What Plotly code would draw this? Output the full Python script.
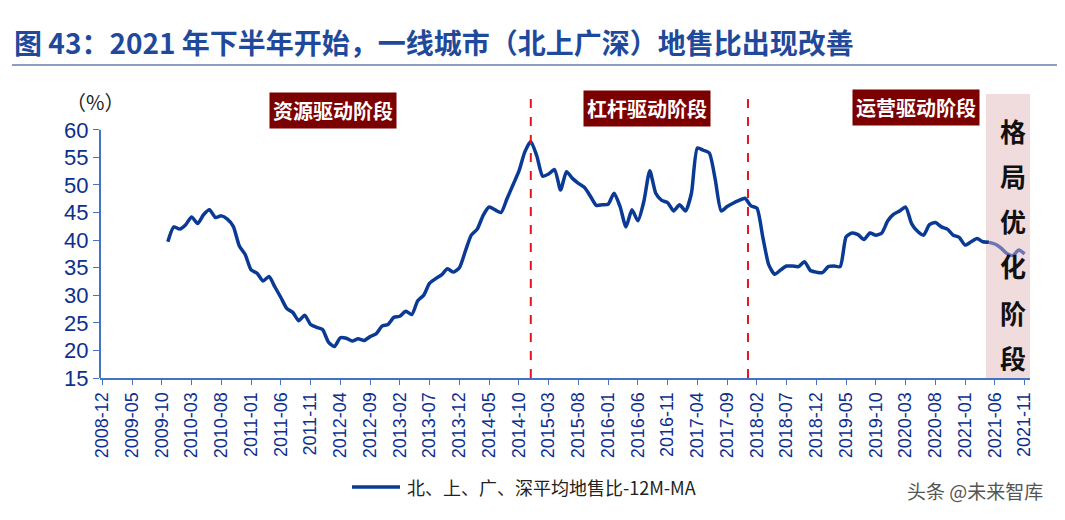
import plotly.graph_objects as go

# monthly categories 2008-12 .. 2021-11
months = []
y, m = 2008, 12
while (y, m) <= (2021, 11):
    months.append(f"{y}-{m:02d}")
    m += 1
    if m > 12:
        y, m = y + 1, 1

# 12M moving average land-sale ratio, starts 2009-11
ratio = [
    39.7, 42.4, 42.0, 42.8, 44.2, 43.0, 44.6, 45.5, 44.1, 44.4,
    43.8, 42.5, 39.0, 37.4, 34.6, 34.0, 32.6, 33.4, 31.5, 29.6,
    27.6, 26.9, 25.4, 26.4, 24.7, 24.2, 23.8, 21.5, 20.7, 22.3,
    22.2, 21.7, 22.1, 21.8, 22.5, 23.0, 24.4, 24.7, 26.0, 26.2,
    27.1, 26.5, 29.0, 30.0, 32.2, 33.0, 33.7, 34.8, 34.2, 35.0,
    38.0, 40.9, 42.0, 44.5, 46.0, 45.5, 45.0, 47.5, 50.0, 52.5,
    56.0, 57.9, 55.3, 51.6, 52.0, 52.8, 49.1, 52.4, 51.2, 50.3,
    49.6, 48.0, 46.3, 46.4, 46.5, 48.5, 46.1, 42.4, 45.5, 43.5,
    47.0, 52.6, 48.5, 47.2, 46.8, 45.3, 46.4, 45.3, 48.5, 56.7,
    56.3, 55.8, 51.0, 45.3, 46.1, 46.7, 47.2, 47.6, 46.2, 45.8,
    40.5, 35.5, 33.8, 34.6, 35.3, 35.3, 35.2, 36.1, 34.5, 34.2,
    34.1, 35.2, 35.3, 35.2, 40.6, 41.3, 41.0, 40.1, 41.3, 40.9,
    41.3, 43.5, 44.7, 45.3, 46.0, 43.0, 41.6, 40.9, 42.8, 43.2,
    42.4, 42.0, 40.9, 40.5, 39.1, 39.7, 40.3, 39.7, 39.6, 39.3,
    38.6, 37.6, 37.2, 38.2, 37.5,
]
start = months.index("2009-11")
split = months.index("2021-05")
stage_lines = ["2014-12", "2017-12"]
stages = ["资源驱动阶段", "杠杆驱动阶段", "运营驱动阶段"]
final_stage = "格局优化阶段"
title = "图 43：2021 年下半年开始，一线城市（北上广深）地售比出现改善"
legend_name = "北、上、广、深平均地售比-12M-MA"

full = [None] * start + ratio
dark = full[: split + 1] + [None] * (len(months) - split - 1)
light = [None] * split + full[split:]

W, H = 1065, 520
OFF = 8  # page offset seen in the screenshot
L, R, T, B = 100 - OFF, 1030 - OFF, 94 - OFF, 378 - OFF
def px(x): return (x - OFF - L) / (R - L)
def py(y): return (B - (y - OFF)) / (B - T)

BLUE = "#0a3a94"
TICK = "#0d2f8f"
CJK = "Noto Sans CJK SC"

fig = go.Figure()
fig.add_trace(go.Scatter(x=months, y=dark, mode="lines",
                         line=dict(color=BLUE, width=3.5, shape="spline", smoothing=0.6),
                         showlegend=False))
fig.add_trace(go.Scatter(x=months, y=light, mode="lines",
                         line=dict(color="#6d75b5", width=3.5, shape="spline", smoothing=0.6),
                         showlegend=False))

shapes = []
# pink shaded final stage
shapes.append(dict(type="rect", xref="x", yref="paper", x0=148.5, x1=155.9, y0=0, y1=1,
                   fillcolor="#f0dcdc", line_width=0, layer="below"))
for s in stage_lines:
    i = months.index(s) + (0.5 if s == "2017-12" else 0)
    shapes.append(dict(type="line", xref="x", yref="paper", x0=i, x1=i, y0=0, y1=1,
                       line=dict(color="#e8141b", width=2, dash="dash")))
# y axis line 15..60
shapes.append(dict(type="line", xref="paper", yref="y", x0=0, x1=0, y0=15, y1=60,
                   line=dict(color="#4472c4", width=2)))
# title underline
shapes.append(dict(type="line", xref="paper", yref="paper", x0=px(12), x1=px(1058),
                   y0=py(65), y1=py(65), line=dict(color="#1f3c88", width=1)))
# legend sample
shapes.append(dict(type="line", xref="paper", yref="paper", x0=px(352), x1=px(400),
                   y0=py(487), y1=py(487), line=dict(color=BLUE, width=3.5)))
fig.update_layout(shapes=shapes)

ann = []
ann.append(dict(text=f"<b>{title}</b>", x=px(12), y=py(42), xanchor="left", yanchor="middle",
                font=dict(family=CJK, size=28, color="#1f4a9c")))
ann.append(dict(text="（%）", x=px(95), y=py(102), xanchor="center", yanchor="middle",
                font=dict(family=CJK, size=20, color="#222")))
for txt, cx, cy in zip(stages, [333, 647, 916], [110, 108, 107]):
    ann.append(dict(text=f"<b>{txt}</b>", x=px(cx), y=py(cy), xanchor="center", yanchor="middle",
                    bgcolor="#7b0000", borderpad=3,
                    font=dict(family=CJK, size=20, color="white")))
for ch, cy in zip(final_stage, [130, 175, 220, 265, 312, 357]):
    ann.append(dict(text=f"<b>{ch}</b>", x=px(1013), y=py(cy), xanchor="center", yanchor="middle",
                    font=dict(family=CJK, size=26, color="#111")))
ann.append(dict(text=legend_name, x=px(405), y=py(487), xanchor="left", yanchor="middle",
                font=dict(family=CJK, size=18, color="#222")))
ann.append(dict(text="头条 @未来智库", x=px(905), y=py(490), xanchor="left", yanchor="middle",
                font=dict(family=CJK, size=19, color="#555")))
for a in ann:
    a.update(xref="paper", yref="paper", showarrow=False)
fig.update_layout(annotations=ann)

fig.update_layout(
    width=W, height=H,
    margin=dict(l=L, r=W - R, t=T, b=H - B),
    plot_bgcolor="white", paper_bgcolor="white",
    font=dict(family="Liberation Sans"),
)
fig.update_xaxes(type="category", categoryorder="array", categoryarray=months,
                 range=[-0.4, 155.9], tickmode="array", tickvals=months[::5],
                 tickangle=-90, tickfont=dict(size=18, color=TICK, family="Liberation Sans"),
                 showline=True, linecolor="#4472c4", linewidth=2, automargin=False,
                 ticks="outside", tickcolor="#4472c4", ticklen=5, showgrid=False)
fig.update_yaxes(range=[15, 66.5], tickvals=list(range(15, 61, 5)), showgrid=False,
                 zeroline=False, ticks="outside", tickcolor="#4472c4", ticklen=6,
                 automargin=False,
                 tickfont=dict(size=22, color=TICK, family="Liberation Sans"))

fig.write_html("out.html")
